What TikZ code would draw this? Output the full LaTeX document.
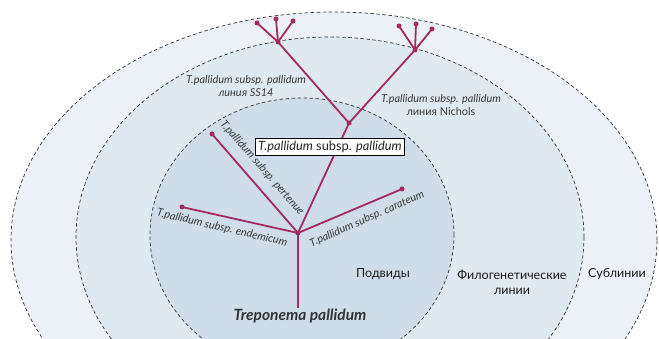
\documentclass[tikz,border=0pt]{standalone}
\usepackage{fontspec}
\setmainfont{Lato}
\definecolor{treec}{HTML}{A52A5E}
\definecolor{zoneA}{HTML}{EBF1F6}
\definecolor{zoneB}{HTML}{DFE9F2}
\definecolor{zoneC}{HTML}{CEDDE9}
\definecolor{labc}{HTML}{3A3A3A}
\begin{document}
\begin{tikzpicture}[x=1pt,y=-1pt,
  zone/.style={draw=black!80, line width=0.7pt, dash pattern=on 3.5pt off 2.5pt},
  br/.style={draw=treec, line width=1.8pt},
  dot/.style={circle, fill=treec, inner sep=0pt, minimum size=5pt},
  lab/.style={text=labc, font=\fontsize{10.9}{13}\selectfont\itshape, inner sep=0pt},
  reg/.style={text=black!90, font=\fontsize{12.5}{15}\selectfont, inner sep=0pt}]
\useasboundingbox (0,0) rectangle (659,339);
\clip (0,0) rectangle (659,339);
\fill[white] (0,0) rectangle (659,339);
% zones
\path[zone, fill=zoneA] (334,240) ellipse [x radius=323pt, y radius=228pt];
\path[zone, fill=zoneB] (330,237) ellipse [x radius=254pt, y radius=200pt];
\path[zone, fill=zoneC] (302,235) ellipse [x radius=152pt, y radius=137pt];
% tree nodes
\coordinate (R) at (298,308);
\node[dot] (H) at (298,233) {};
\node[dot] (E) at (182,207) {};
\node[dot] (C) at (402,189) {};
\node[dot] (Pt) at (212,134) {};
\node[dot] (P) at (349,123) {};
\node[dot] (S) at (278,42) {};
\node[dot] (S1) at (257,23) {};
\node[dot] (S2) at (276,19) {};
\node[dot] (S3) at (293,21) {};
\node[dot] (N) at (415,50) {};
\node[dot] (N1) at (399,26) {};
\node[dot] (N2) at (416,24) {};
\node[dot] (N3) at (432,29) {};
% branches
\draw[br] (R) -- (H.center);
\draw[br] (H.center) -- (E.center);
\draw[br] (H.center) -- (C.center);
\draw[br] (H.center) -- (Pt.center);
\draw[br] (H.center) -- (P.center);
\draw[br] (P.center) -- (S.center);
\draw[br] (P.center) -- (N.center);
\draw[br] (S.center) -- (S1.center);
\draw[br] (S.center) -- (S2.center);
\draw[br] (S.center) -- (S3.center);
\draw[br] (N.center) -- (N1.center);
\draw[br] (N.center) -- (N2.center);
\draw[br] (N.center) -- (N3.center);
% labels
\node[draw=black, fill=white, line width=0.6pt, inner sep=2.5pt, text=black!85,
  font=\fontsize{12.8}{14}\selectfont] (Lbox) at (330,147)
  {\textit{T.pallidum} subsp. \textit{pallidum}};
\node[lab, align=center] (LS) at (246,86) {T.pallidum subsp. pallidum\\линия SS14};
\node[lab, align=center] (LN) at (441,105) {T.pallidum subsp. pallidum\\\upshape линия Nichols};
\node[lab, rotate=-49] (LPt) at (262,168) {T.pallidum subsp. pertenue};
\node[lab, rotate=-13] (LE) at (222,228) {T.pallidum subsp. endemicum};
\node[lab, rotate=24] (LC) at (367,219) {T.pallidum subsp. carateum};
\node[reg] (Z1) at (383,274) {Подвиды};
\node[reg, align=center] (Z2) at (512,282) {Филогенетические\\линии};
\node[reg] (Z3) at (617,274) {Сублинии};
\node[font=\fontsize{15.5}{17}\selectfont\bfseries\itshape, text=black!80, inner sep=0pt] (T) at (300,316) {Treponema pallidum};
\end{tikzpicture}
\end{document}
